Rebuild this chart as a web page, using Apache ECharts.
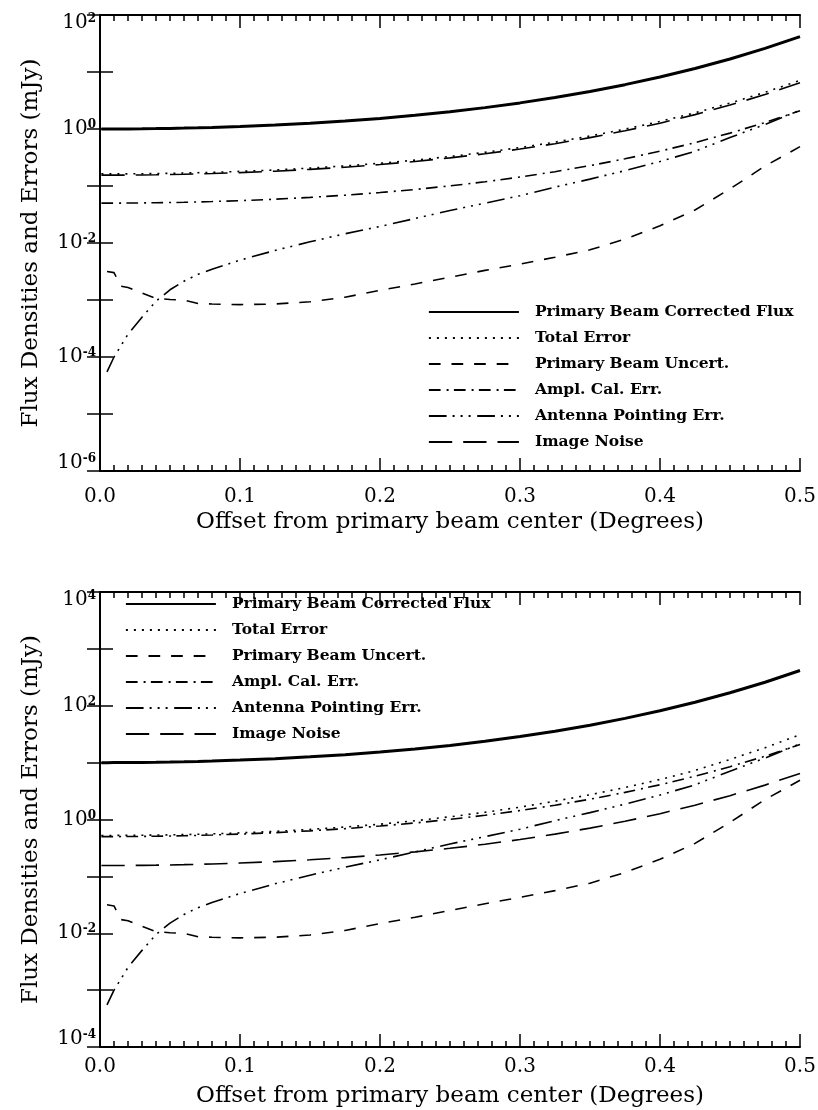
<!DOCTYPE html>
<html>
<head>
<meta charset="utf-8">
<script src="https://cdn.jsdelivr.net/npm/echarts@6/dist/echarts.min.js"></script>
<style>
html,body{margin:0;padding:0;background:#fff;}
#c{width:818px;height:1110px;}
</style>
</head>
<body>
<div id="c"></div>
<script>
// Offset from primary beam center (degrees)
const xs = [0.001, 0.005, 0.01, 0.015, 0.02, 0.03, 0.04, 0.05, 0.06, 0.07, 0.08, 0.1, 0.125, 0.15, 0.175, 0.2, 0.225, 0.25, 0.275, 0.3, 0.325, 0.35, 0.375, 0.4, 0.425, 0.45, 0.475, 0.5];

// Top panel (mJy)
const fluxTop  = [1.000, 1.000, 1.001, 1.002, 1.004, 1.009, 1.016, 1.025, 1.036, 1.050, 1.067, 1.107, 1.173, 1.263, 1.380, 1.535, 1.738, 2.009, 2.371, 2.871, 3.565, 4.550, 5.998, 8.166, 11.53, 16.94, 25.94, 41.69];
const totalTop = [0.1629, 0.1629, 0.1631, 0.1632, 0.1635, 0.1643, 0.1655, 0.1670, 0.1688, 0.1711, 0.1738, 0.1804, 0.1912, 0.2060, 0.2252, 0.2507, 0.2843, 0.3293, 0.3894, 0.4724, 0.5885, 0.7528, 0.9945, 1.357, 1.922, 2.850, 4.398, 7.136];
const pbTop    = [null, 3.16e-3, 3.02e-3, 1.74e-3, 1.66e-3, 1.32e-3, 1.07e-3, 1.02e-3, 1.0e-3, 8.7e-4, 8.5e-4, 8.3e-4, 8.5e-4, 9.3e-4, 1.12e-3, 1.48e-3, 1.91e-3, 2.51e-3, 3.31e-3, 4.27e-3, 5.62e-3, 7.59e-3, 1.17e-2, 2.0e-2, 3.8e-2, 8.9e-2, 0.224, 0.49];
const amplTop  = [0.05, 0.05, 0.05005, 0.0501, 0.0502, 0.05045, 0.0508, 0.05125, 0.0518, 0.0525, 0.05335, 0.05535, 0.05865, 0.06315, 0.069, 0.07675, 0.0869, 0.10045, 0.11855, 0.14355, 0.17825, 0.2275, 0.2999, 0.4083, 0.5765, 0.847, 1.297, 2.0845];
const pointTop = [null, 5.5e-5, 1.0e-4, 1.58e-4, 2.51e-4, 5.0e-4, 9.5e-4, 1.51e-3, 2.14e-3, 2.82e-3, 3.47e-3, 5.0e-3, 7.4e-3, 1.05e-2, 1.45e-2, 1.95e-2, 2.69e-2, 3.72e-2, 5.0e-2, 6.76e-2, 9.55e-2, 0.132, 0.186, 0.269, 0.407, 0.708, 1.20, 2.14];
const noiseTop = [0.155, 0.155, 0.1552, 0.1553, 0.1556, 0.1564, 0.1575, 0.1589, 0.1606, 0.1628, 0.1654, 0.1716, 0.1818, 0.1958, 0.2139, 0.2379, 0.2694, 0.3114, 0.3675, 0.445, 0.5526, 0.7053, 0.9297, 1.266, 1.787, 2.626, 4.021, 6.462];

// Bottom panel (mJy)
const fluxBot  = [10.00, 10.00, 10.01, 10.02, 10.04, 10.09, 10.16, 10.25, 10.36, 10.50, 10.67, 11.07, 11.73, 12.63, 13.80, 15.35, 17.38, 20.09, 23.71, 28.71, 35.65, 45.50, 59.98, 81.66, 115.3, 169.4, 259.4, 416.9];
const totalBot = [0.5235, 0.5244, 0.5249, 0.5250, 0.5258, 0.5284, 0.5321, 0.5369, 0.5429, 0.5504, 0.5597, 0.5817, 0.6185, 0.6695, 0.7369, 0.827, 0.949, 1.116, 1.338, 1.648, 2.097, 2.724, 3.651, 5.055, 7.289, 11.38, 18.26, 30.96];
const pbBot    = [null, 3.16e-2, 3.02e-2, 1.74e-2, 1.66e-2, 1.32e-2, 1.07e-2, 1.02e-2, 1.0e-2, 8.7e-3, 8.5e-3, 8.3e-3, 8.5e-3, 9.3e-3, 1.12e-2, 1.48e-2, 1.91e-2, 2.51e-2, 3.31e-2, 4.27e-2, 5.62e-2, 7.59e-2, 0.117, 0.20, 0.38, 0.89, 2.24, 4.9];
const amplBot  = [0.5, 0.5, 0.5005, 0.501, 0.502, 0.5045, 0.508, 0.5125, 0.518, 0.525, 0.5335, 0.5535, 0.5865, 0.6315, 0.69, 0.7675, 0.869, 1.0045, 1.1855, 1.4355, 1.7825, 2.275, 2.999, 4.083, 5.765, 8.47, 12.97, 20.845];
const pointBot = [null, 5.5e-4, 1.0e-3, 1.58e-3, 2.51e-3, 5.0e-3, 9.5e-3, 1.51e-2, 2.14e-2, 2.82e-2, 3.47e-2, 5.0e-2, 7.4e-2, 0.105, 0.145, 0.195, 0.269, 0.372, 0.50, 0.676, 0.955, 1.32, 1.86, 2.69, 4.07, 7.08, 12.0, 21.4];
const noiseBot = [0.155, 0.155, 0.1552, 0.1553, 0.1556, 0.1564, 0.1575, 0.1589, 0.1606, 0.1628, 0.1654, 0.1716, 0.1818, 0.1958, 0.2139, 0.2379, 0.2694, 0.3114, 0.3675, 0.445, 0.5526, 0.7053, 0.9297, 1.266, 1.787, 2.626, 4.021, 6.462];

const seriesNames = ['Primary Beam Corrected Flux', 'Total Error', 'Primary Beam Uncert.', 'Ampl. Cal. Err.', 'Antenna Pointing Err.', 'Image Noise'];
const xTitle = 'Offset from primary beam center (Degrees)';
const yTitle = 'Flux Densities and Errors (mJy)';

const FONT = 'DejaVu Serif';
const lineStyles = [
  {width: 3, type: 'solid'},
  {width: 1.6, type: [2, 6]},
  {width: 1.6, type: [11.7, 10.9]},
  {width: 1.6, type: [11.7, 6, 2, 5.3]},
  {width: 1.6, type: [17.7, 6, 2, 6, 2, 6, 2, 6.6]},
  {width: 1.6, type: [23.3, 11]}
];

function pairs(arr) {
  const out = [];
  xs.forEach((x, i) => { if (arr[i] != null) out.push([x, arr[i]]); });
  return out;
}

function mkSeries(datasets, g) {
  return datasets.map((d, k) => ({
    type: 'line',
    name: seriesNames[k],
    xAxisIndex: g * 2,
    yAxisIndex: g * 2,
    data: pairs(d),
    symbol: 'none',
    showSymbol: false,
    silent: true,
    animation: false,
    itemStyle: {color: '#000'},
    lineStyle: Object.assign({color: '#000'}, lineStyles[k]),
    z: 3
  }));
}

function makeYFmt(minE, maxE) {
  return function (v) {
    const e = Math.round(Math.log10(v));
    if (e % 2 !== 0) return '';
    const s = e < 0 ? '-' + (-e) : String(e);
    const core = '{b|10}{e|' + s + '}';
    if (e === maxE) return '{g|}\n' + core;
    if (e === minE) return core + '\n{g|}';
    return core;
  };
}
const yRich = {
  b: {fontFamily: FONT, fontSize: 20, color: '#000', verticalAlign: 'bottom', lineHeight: 20, padding: [3, 0, 0, 0]},
  e: {fontFamily: FONT, fontSize: 12, fontWeight: 'bold', color: '#000', verticalAlign: 'top', lineHeight: 13},
  g: {fontSize: 10, lineHeight: 16, height: 16}
};

function xAxes(g, margin, gap) {
  const common = {
    type: 'value', gridIndex: g, min: 0, max: 0.5, interval: 0.1,
    axisLine: {show: true, lineStyle: {color: '#000', width: 2}},
    axisTick: {show: true, inside: true, length: 13, lineStyle: {color: '#000', width: 1.5}},
    minorTick: {show: true, splitNumber: 10, length: 6, lineStyle: {color: '#000', width: 1.5}},
    splitLine: {show: false}, minorSplitLine: {show: false}
  };
  return [
    Object.assign({}, common, {
      position: 'bottom',
      axisLabel: {show: true, margin: margin, fontFamily: FONT, fontSize: 20, color: '#000', formatter: v => v.toFixed(1)},
      name: xTitle, nameLocation: 'middle', nameGap: gap,
      nameTextStyle: {fontFamily: FONT, fontSize: 23, color: '#000'}
    }),
    Object.assign({}, common, {position: 'top', axisLabel: {show: false}})
  ];
}

function yAxes(g, min, max, minE, maxE) {
  const common = {
    type: 'log', logBase: 10, gridIndex: g, min: min, max: max, splitNumber: 8,
    axisLine: {show: true, lineStyle: {color: '#000', width: 2}},
    axisTick: {show: true, inside: true, length: 13, lineStyle: {color: '#000', width: 1.5}},
    splitLine: {show: false}, minorTick: {show: false}
  };
  return [
    Object.assign({}, common, {
      position: 'left',
      axisLabel: {show: true, margin: 4, formatter: makeYFmt(minE, maxE), rich: yRich},
      name: yTitle, nameLocation: 'middle', nameGap: 57, nameRotate: 90,
      nameTextStyle: {fontFamily: FONT, fontSize: 23, color: '#000'}
    }),
    Object.assign({}, common, {position: 'right', axisLabel: {show: false}})
  ];
}

function legend(left, top) {
  return {
    show: true, orient: 'vertical', left: left, top: top, padding: 0,
    itemWidth: 90, itemHeight: 14, itemGap: 10,
    selectedMode: false,
    data: seriesNames,
    itemStyle: {opacity: 0},
    lineStyle: {width: 1.8},
    textStyle: {fontFamily: FONT, fontWeight: 'bold', fontSize: 15.5, color: '#000', lineHeight: 14, padding: [0, 0, 0, 11]}
  };
}

const chart = echarts.init(document.getElementById('c'), null, {renderer: 'canvas'});
chart.setOption({
  animation: false,
  backgroundColor: '#fff',
  grid: [
    {left: 100, top: 15, width: 700, height: 456, containLabel: false, outerBoundsMode: 'none'},
    {left: 100, top: 592, width: 700, height: 455, containLabel: false, outerBoundsMode: 'none'}
  ],
  legend: [legend(428, 304), legend(125, 596)],
  xAxis: xAxes(0, 16, 40).concat(xAxes(1, 10, 38)),
  yAxis: yAxes(0, 1e-6, 1e2, -6, 2).concat(yAxes(1, 1e-4, 1e4, -4, 4)),
  series: mkSeries([fluxTop, totalTop, pbTop, amplTop, pointTop, noiseTop], 0)
    .concat(mkSeries([fluxBot, totalBot, pbBot, amplBot, pointBot, noiseBot], 1))
});
</script>
</body>
</html>
